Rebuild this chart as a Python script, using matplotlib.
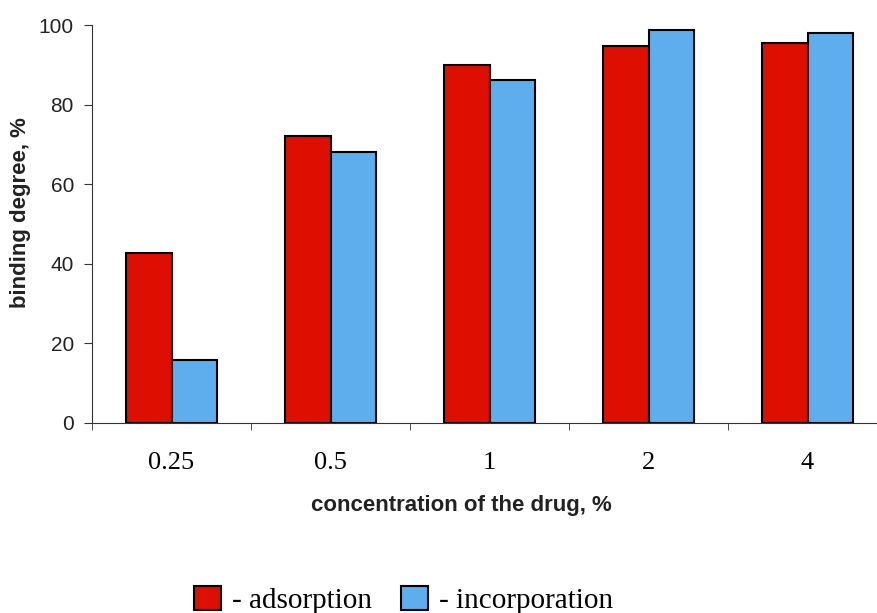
"""Binding degree vs drug concentration: adsorption vs incorporation."""
import matplotlib
matplotlib.use("Agg")
import matplotlib.pyplot as plt
from matplotlib.patches import Patch
import numpy as np

concentrations = ["0.25", "0.5", "1", "2", "4"]
adsorption = [42.7, 72.1, 90.0, 94.7, 95.5]
incorporation = [15.8, 68.1, 86.2, 98.7, 97.9]

red = "#DE0E00"
blue = "#5EAEEE"

fig = plt.figure(figsize=(8.78, 6.13), dpi=100)
ax = fig.add_axes([0.1048, 0.310, 0.9055, 0.649])

x = np.arange(len(concentrations))
w = 0.287
ax.bar(x - w / 2, adsorption, w, color=red, edgecolor="black", linewidth=1.5)
ax.bar(x + w / 2, incorporation, w, color=blue, edgecolor="black", linewidth=1.5)

ax.set_xlim(-0.5, len(concentrations) - 0.5)
ax.set_ylim(0, 100)
ax.set_yticks([0, 20, 40, 60, 80, 100])

# labels at category centres, small ticks at the boundaries
ax.set_xticks(x)
ax.set_xticklabels(concentrations, family="Liberation Serif", fontsize=19)
ax.set_xticks(np.arange(-0.5, len(concentrations) - 0.4, 1), minor=True)
ax.tick_params(axis="x", which="major", length=0, pad=21)
ax.tick_params(axis="x", which="minor", length=5, direction="out", color="#333")
ax.tick_params(axis="y", length=6, pad=7, color="#333", labelsize=15, labelcolor="#222")
for lab in ax.get_yticklabels():
    lab.set_family("Liberation Sans")

ax.spines["top"].set_visible(False)
ax.spines["right"].set_visible(False)
ax.spines["left"].set_color("#333")
ax.spines["bottom"].set_color("#333")

ax.set_ylabel("binding degree, %", family="Liberation Sans", fontweight="bold",
              fontsize=16, color="#222")
ax.yaxis.set_label_coords(-0.0767, 0.53)
ax.set_xlabel("concentration of the drug, %", family="Liberation Sans",
              fontweight="bold", fontsize=16, color="#222")
ax.xaxis.set_label_coords(0.464, -0.181)

handles = [Patch(facecolor=red, edgecolor="black", linewidth=1.5),
           Patch(facecolor=blue, edgecolor="black", linewidth=1.5)]
fig.legend(handles, ["- adsorption", "- incorporation"], loc="center",
           bbox_to_anchor=(0.460, 0.021), ncol=2, frameon=False,
           prop={"family": "Liberation Serif", "size": 21},
           handlelength=0.9, handleheight=0.9, handletextpad=0.4, columnspacing=1.0)

plt.savefig("out.png", dpi=100)
print("Saved out.png")
